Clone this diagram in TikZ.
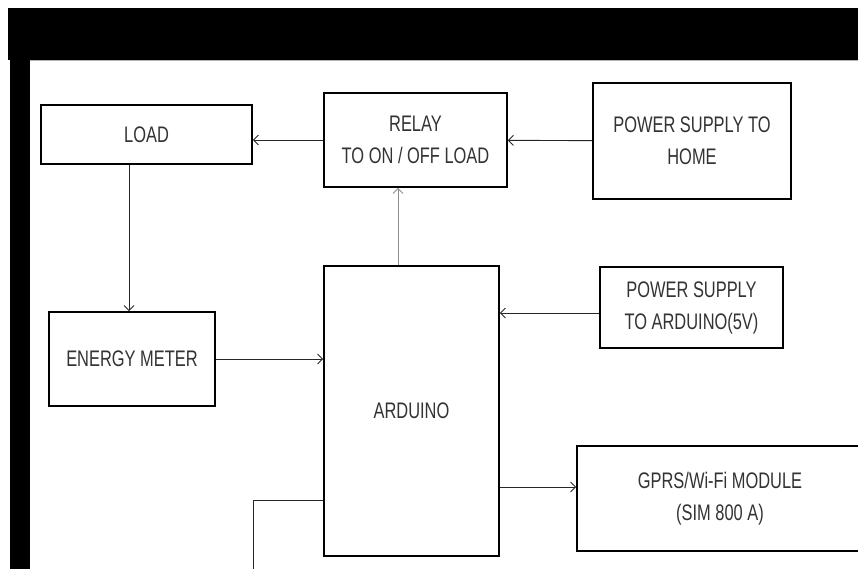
\documentclass[tikz,border=0pt]{standalone}
\usepackage{fontspec}
\setmainfont{Liberation Sans}[FakeStretch=0.73]
\usetikzlibrary{positioning,arrows.meta,calc}

\begin{document}
\begin{tikzpicture}[
  x=1pt, y=-1pt,
  blk/.style={draw, line width=1.6pt, align=center, inner sep=0pt, fill=white, text=black!80, font=\fontsize{22.5}{32}\selectfont},
  arr/.style={-{Straight Barb[length=5pt,width=10pt]}, line width=0.9pt, black!85},
  wire/.style={line width=0.9pt, black!85}
]
\useasboundingbox (0,0) rectangle (858,569);
% frame
\fill[black] (8,8) rectangle (858,60);
\fill[black] (10,60) rectangle (30,569);
\draw[gray!60, line width=0.8pt] (30,60.5) -- (858,60.5);
% top row
\node[blk, minimum width=211, minimum height=59] (load) at (146.5,134.5) {LOAD};
\node[blk, minimum width=183, minimum height=94] (relay) at (415.5,140) {RELAY\\TO ON / OFF LOAD};
\node[blk, minimum width=198, minimum height=116] (home) at (692,141) {POWER SUPPLY TO\\HOME};
% middle
\node[blk, minimum width=183, minimum height=81] (psa) at (691.5,307.5) {POWER SUPPLY\\TO ARDUINO(5V)};
\node[blk, minimum width=166, minimum height=94] (meter) at (132,359) {ENERGY METER};
\node[blk, minimum width=175, minimum height=290] (ard) at (411.5,411) {ARDUINO};
% bottom
\node[blk, minimum width=286, minimum height=105] (gprs) at (720,498.5) {GPRS/Wi-Fi MODULE\\(SIM 800 A)};
% flow
\draw[arr] (home) -- (relay);
\draw[arr] (relay.west) -- (relay.west -| load.east);
\draw[arr] ([xshift=-3pt]load.south -| meter.north) -- ([xshift=-3pt]meter.north);
\draw[arr, black!45] ([xshift=-13.5pt]ard.north) -- ([xshift=-13.5pt]ard.north |- relay.south);
\draw[arr] (meter.east) -- (meter.east -| ard.west);
\draw[arr] ([yshift=-5.5pt]psa.west) -- ([yshift=-5.5pt]psa.west -| ard.east);
\coordinate (g) at ([yshift=11.5pt]gprs.west);
\draw[arr] (g -| ard.east) -- (g);
% line out at the bottom
\coordinate (out) at (253,580);
\draw[wire] ([yshift=-89pt]ard.west) -| (out);
\end{tikzpicture}
\end{document}
